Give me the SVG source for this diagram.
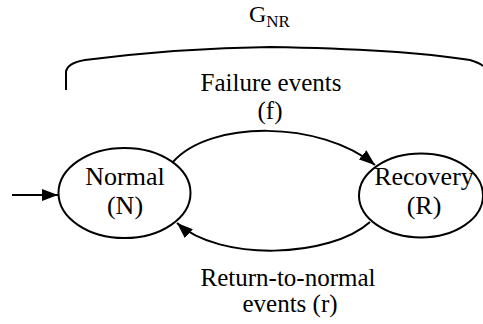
<svg xmlns="http://www.w3.org/2000/svg" width="483" height="324" viewBox="0 0 483 324">
<style>
.t{font-family:"Liberation Serif","Times New Roman",serif;fill:#000;text-anchor:middle}
.n{font-size:26px}
.e{font-size:25px}
.ln{fill:none;stroke:#000;stroke-width:2}
</style>
<defs>
<marker id="ah" markerUnits="userSpaceOnUse" markerWidth="16" markerHeight="12" refX="16" refY="6" orient="auto">
<path d="M0,0 L16,6 L0,12 z" fill="#000"/>
</marker>
</defs>
<rect width="483" height="324" fill="#fff"/>
<g id="group-GNR">
<path class="ln" d="M66,90 L66,72 Q67,63 85,60 Q180,48 270,47 Q400,49 470,60 Q480,63 483,66"/>
<text class="t" x="249" y="22" style="font-size:24px;text-anchor:start">G<tspan style="font-size:17px" dy="5">NR</tspan></text>
</g>
<g id="connectors">
<path class="ln" d="M12,195 L58,195" marker-end="url(#ah)"/>
<path class="ln" d="M173,162 C210,120 320,120 375,165" marker-end="url(#ah)"/>
<path class="ln" d="M370,222 C330,258 220,262 177,223" marker-end="url(#ah)"/>
<text class="t e" x="271" y="91">Failure events</text>
<text class="t e" x="270" y="119">(f)</text>
<text class="t e" x="288" y="286">Return-to-normal</text>
<text class="t e" x="290" y="312">events (r)</text>
</g>
<g id="node-normal">
<ellipse class="ln" cx="124.5" cy="193" rx="66" ry="45"/>
<text class="t n" x="125" y="185">Normal</text>
<text class="t n" x="125" y="214">(N)</text>
</g>
<g id="node-recovery">
<ellipse class="ln" cx="421" cy="195.5" rx="62" ry="42"/>
<text class="t n" x="424" y="185">Recovery</text>
<text class="t n" x="424" y="214">(R)</text>
</g>
</svg>
